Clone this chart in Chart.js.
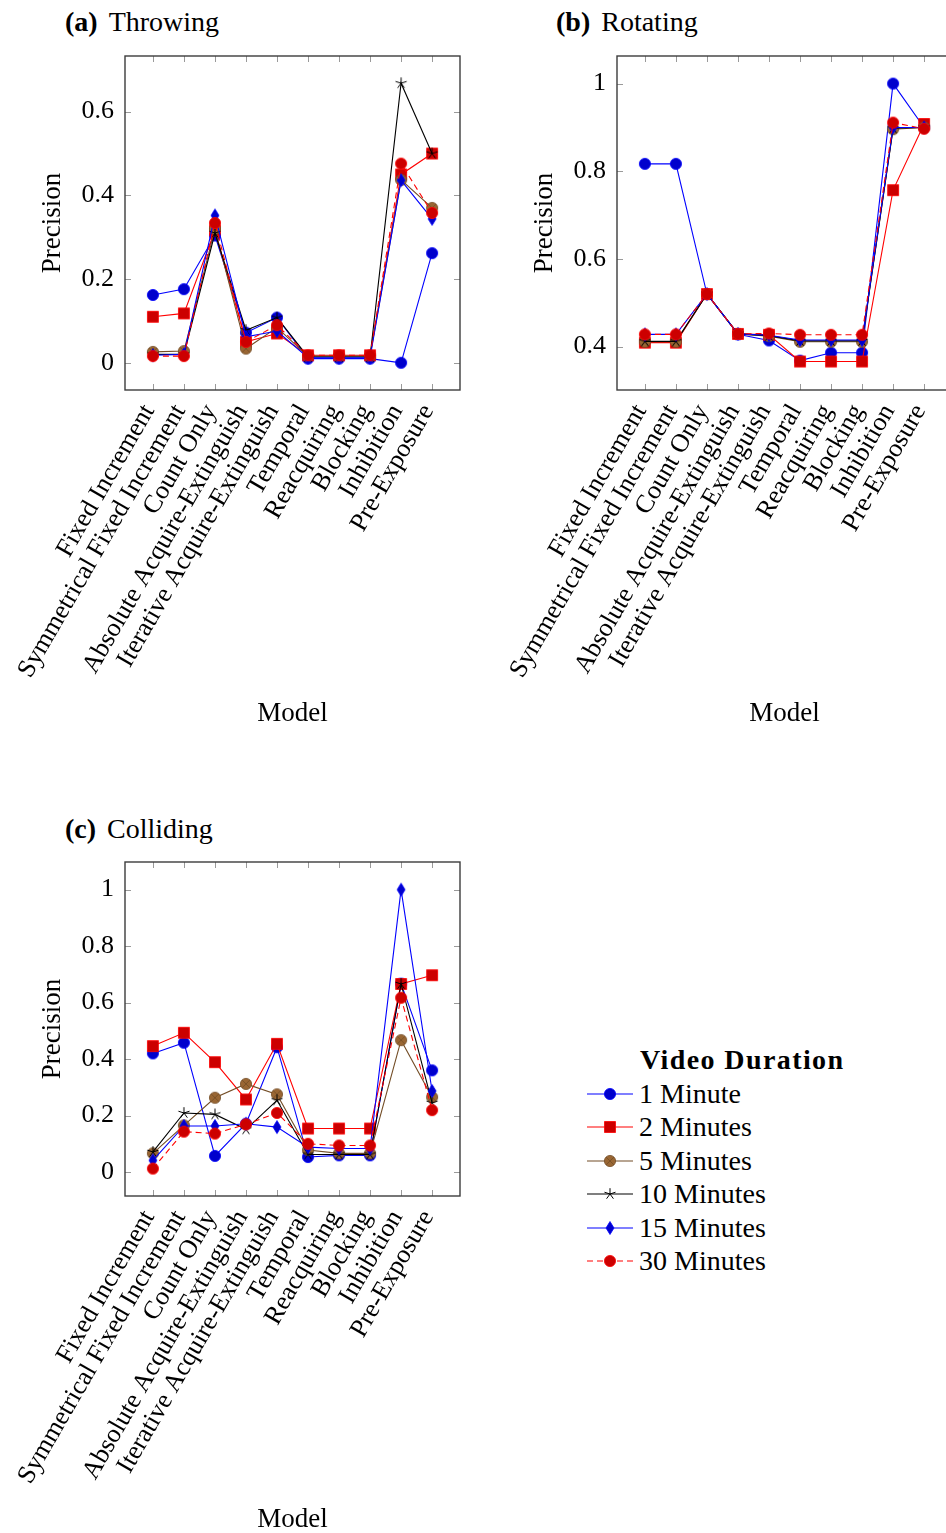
<!DOCTYPE html>
<html>
<head>
<meta charset="utf-8">
<script src="https://cdn.jsdelivr.net/npm/chart.js@4"></script>
<style>
  body { margin: 0; width: 946px; height: 1533px; overflow: hidden; background: #fff; position: relative; font-family: 'Liberation Serif', 'Times New Roman', 'DejaVu Serif', serif; color: #000; }
  .ttl { position: absolute; font-size: 28px; line-height: 32px; white-space: nowrap; }
  .ttl b { margin-right: 11px; }
  canvas.plot { position: absolute; }
  #legend { position: absolute; left: 586px; top: 1042px; font-size: 28px; }
  #legend .head { position: absolute; left: 54px; top: 0; font-weight: bold; letter-spacing: 1.4px; white-space: nowrap; line-height: 36px; }
  #legend .row { position: absolute; left: 0; height: 30px; white-space: nowrap; }
  #legend .row canvas { position: absolute; left: 0; top: 5px; }
  #legend .row span { position: absolute; left: 53px; top: 0; line-height: 30px; }
</style>
</head>
<body>
<div class="ttl" style="left:65px;top:6px"><b>(a)</b>Throwing</div>
<div class="ttl" style="left:556px;top:6px"><b>(b)</b>Rotating</div>
<div class="ttl" style="left:65px;top:813px"><b>(c)</b>Colliding</div>

<canvas class="plot" id="chartA" width="470" height="740" style="left:0;top:0"></canvas>
<canvas class="plot" id="chartB" width="470" height="740" style="left:492px;top:0"></canvas>
<canvas class="plot" id="chartC" width="470" height="740" style="left:0;top:806px"></canvas>

<div id="legend"><div class="head">Video Duration</div></div>

<script>
const models = ['Fixed Increment', 'Symmetrical Fixed Increment', 'Count Only', 'Absolute Acquire-Extinguish',
  'Iterative Acquire-Extinguish', 'Temporal', 'Reacquiring', 'Blocking', 'Inhibition', 'Pre-Exposure'];
const durations = ['1 Minute', '2 Minutes', '5 Minutes', '10 Minutes', '15 Minutes', '30 Minutes'];

// (a) Throwing
const throw1  = [0.162, 0.176, 0.304, 0.072, 0.108, 0.010, 0.010, 0.010, 0.000, 0.262];
const throw2  = [0.110, 0.118, 0.316, 0.050, 0.070, 0.018, 0.018, 0.018, 0.450, 0.500];
const throw5  = [0.026, 0.028, 0.320, 0.034, 0.084, 0.016, 0.016, 0.016, 0.437, 0.370];
const throw10 = [0.020, 0.020, 0.310, 0.078, 0.108, 0.014, 0.014, 0.014, 0.668, 0.500];
const throw15 = [0.018, 0.020, 0.352, 0.062, 0.076, 0.012, 0.012, 0.012, 0.436, 0.344];
const throw30 = [0.016, 0.016, 0.334, 0.050, 0.090, 0.018, 0.018, 0.018, 0.476, 0.358];

// (b) Rotating
const rot1  = [0.817, 0.817, 0.520, 0.428, 0.414, 0.368, 0.386, 0.386, 1.000, 0.900];
const rot2  = [0.409, 0.409, 0.520, 0.429, 0.427, 0.366, 0.366, 0.366, 0.757, 0.908];
const rot5  = [0.411, 0.411, 0.520, 0.429, 0.424, 0.411, 0.411, 0.411, 0.896, 0.900];
const rot10 = [0.412, 0.412, 0.520, 0.429, 0.425, 0.413, 0.413, 0.413, 0.898, 0.900];
const rot15 = [0.428, 0.428, 0.520, 0.429, 0.426, 0.415, 0.415, 0.415, 0.900, 0.900];
const rot30 = [0.428, 0.428, 0.520, 0.429, 0.430, 0.427, 0.427, 0.427, 0.911, 0.897];

// (c) Colliding
const col1  = [0.420, 0.458, 0.057, 0.171, 0.442, 0.053, 0.059, 0.059, 0.667, 0.360];
const col2  = [0.446, 0.493, 0.389, 0.257, 0.454, 0.154, 0.154, 0.154, 0.666, 0.697];
const col5  = [0.066, 0.165, 0.263, 0.312, 0.275, 0.078, 0.066, 0.066, 0.467, 0.265];
const col10 = [0.071, 0.209, 0.204, 0.151, 0.254, 0.062, 0.062, 0.062, 0.666, 0.245];
const col15 = [0.041, 0.163, 0.163, 0.171, 0.159, 0.088, 0.083, 0.083, 1.000, 0.287];
const col30 = [0.012, 0.143, 0.136, 0.169, 0.209, 0.100, 0.094, 0.094, 0.617, 0.219];

const ticksA = [0, 0.2, 0.4, 0.6];
const ticksB = [0.4, 0.6, 0.8, 1];
const ticksC = [0, 0.2, 0.4, 0.6, 0.8, 1];

const FONT = "'Liberation Serif', 'Times New Roman', 'DejaVu Serif', serif";

// line + mark style per duration (pgfplots look)
const looks = [
  { line: '#0000ff', fill: '#0000cc', mark: 'circle',  dash: [] },
  { line: '#ff0000', fill: '#cc0000', mark: 'square',  dash: [] },
  { line: '#734d26', fill: '#996633', mark: 'otimes',  dash: [] },
  { line: '#000000', fill: '#000000', mark: 'star',    dash: [] },
  { line: '#0000ff', fill: '#0000cc', mark: 'diamond', dash: [] },
  { line: '#ff0000', fill: '#cc0000', mark: 'circle',  dash: [6, 4] }
];

function makeMark(look) {
  const c = document.createElement('canvas');
  c.width = 16; c.height = 16;
  const g = c.getContext('2d');
  g.translate(8, 8);
  g.lineWidth = 0.8;
  g.strokeStyle = look.line;
  g.fillStyle = look.fill;
  if (look.mark === 'circle' || look.mark === 'otimes') {
    g.beginPath(); g.arc(0, 0, 5.6, 0, Math.PI * 2); g.fill(); g.stroke();
    if (look.mark === 'otimes') {
      const d = 3.9;
      g.beginPath(); g.moveTo(-d, -d); g.lineTo(d, d); g.moveTo(-d, d); g.lineTo(d, -d); g.stroke();
    }
  } else if (look.mark === 'square') {
    g.beginPath(); g.rect(-5.5, -5.5, 11, 11); g.fill(); g.stroke();
  } else if (look.mark === 'diamond') {
    g.beginPath(); g.moveTo(0, -6.5); g.lineTo(4, 0); g.lineTo(0, 6.5); g.lineTo(-4, 0); g.closePath(); g.fill(); g.stroke();
  } else if (look.mark === 'star') {
    g.lineWidth = 1;
    g.beginPath();
    for (let k = 0; k < 5; k++) {
      const a = -Math.PI / 2 + k * 2 * Math.PI / 5;
      g.moveTo(0, 0); g.lineTo(5.8 * Math.cos(a), 5.8 * Math.sin(a));
    }
    g.stroke();
  }
  return c;
}
const marks = looks.map(makeMark);

// box + inner tick marks like pgfplots
const frame = {
  id: 'frame',
  beforeDatasetsDraw(chart) {
    const { ctx, chartArea: a, scales } = chart;
    ctx.save();
    ctx.strokeStyle = '#9a9a9a';
    ctx.lineWidth = 1;
    ctx.beginPath();
    scales.y.ticks.forEach((t, i) => {
      const y = Math.round(scales.y.getPixelForTick(i)) + 0.5;
      ctx.moveTo(a.left, y); ctx.lineTo(a.left + 6, y);
      ctx.moveTo(a.right, y); ctx.lineTo(a.right - 6, y);
    });
    scales.x.ticks.forEach((t, i) => {
      const x = Math.round(scales.x.getPixelForTick(i)) + 0.5;
      ctx.moveTo(x, a.top); ctx.lineTo(x, a.top + 6);
      ctx.moveTo(x, a.bottom); ctx.lineTo(x, a.bottom - 6);
    });
    ctx.stroke();
    ctx.strokeStyle = '#3c3c3c';
    ctx.lineWidth = 1.4;
    ctx.strokeRect(a.left, a.top, a.right - a.left, a.bottom - a.top);
    ctx.restore();
  }
};

function makeChart(id, series, yMin, yMax, yTicks) {
  const datasets = series.map((vals, i) => ({
    label: durations[i],
    data: vals.map((v, k) => ({ x: k, y: v })),
    borderColor: looks[i].line,
    borderWidth: 1.1,
    borderDash: looks[i].dash,
    pointStyle: marks[i],
    pointRadius: 6,
    fill: false,
    tension: 0,
    order: series.length - i,
    clip: false
  }));
  return new Chart(document.getElementById(id), {
    type: 'line',
    data: { datasets },
    plugins: [frame],
    options: {
      responsive: false,
      animation: false,
      events: [],
      layout: { padding: { top: 56, right: 10, left: 0, bottom: 0 } },
      plugins: { legend: { display: false }, tooltip: { enabled: false } },
      scales: {
        x: {
          type: 'linear',
          min: -0.9, max: 9.9,
          afterBuildTicks: s => { s.ticks = models.map((m, k) => ({ value: k })); },
          afterFit: s => { s.height = 350; },
          grid: { display: false, drawTicks: false },
          border: { display: false },
          ticks: {
            autoSkip: false, minRotation: 60, maxRotation: 60, padding: 9, labelOffset: -4,
            color: '#000', font: { family: FONT, size: 26 },
            callback: v => models[v]
          },
          title: { display: true, text: 'Model', color: '#000', font: { family: FONT, size: 27 }, padding: { top: 0, bottom: 10 } }
        },
        y: {
          min: yMin, max: yMax,
          afterBuildTicks: s => { s.ticks = yTicks.map(v => ({ value: v })); },
          afterFit: s => { s.width = 125; },
          grid: { display: false, drawTicks: false },
          border: { display: false },
          ticks: { padding: 11, color: '#000', font: { family: FONT, size: 26 }, callback: v => String(v) },
          title: { display: true, text: 'Precision', color: '#000', font: { family: FONT, size: 27 }, padding: { top: 37, bottom: 0 } }
        }
      }
    }
  });
}

makeChart('chartA', [throw1, throw2, throw5, throw10, throw15, throw30], -0.065, 0.733, ticksA);
makeChart('chartB', [rot1, rot2, rot5, rot10, rot15, rot30], 0.301, 1.063, ticksB);
makeChart('chartC', [col1, col2, col5, col10, col15, col30], -0.085, 1.098, ticksC);

// legend
const legend = document.getElementById('legend');
durations.forEach((name, i) => {
  const row = document.createElement('div');
  row.className = 'row';
  row.style.top = (37 + i * 33.4) + 'px';
  const c = document.createElement('canvas');
  c.width = 48; c.height = 20;
  const g = c.getContext('2d');
  g.strokeStyle = looks[i].line;
  g.lineWidth = 1.1;
  g.setLineDash(looks[i].dash);
  g.beginPath(); g.moveTo(1, 10); g.lineTo(47, 10); g.stroke();
  g.drawImage(marks[i], 24 - 8, 10 - 8);
  const t = document.createElement('span');
  t.textContent = name;
  row.appendChild(c);
  row.appendChild(t);
  legend.appendChild(row);
});
</script>
</body>
</html>
